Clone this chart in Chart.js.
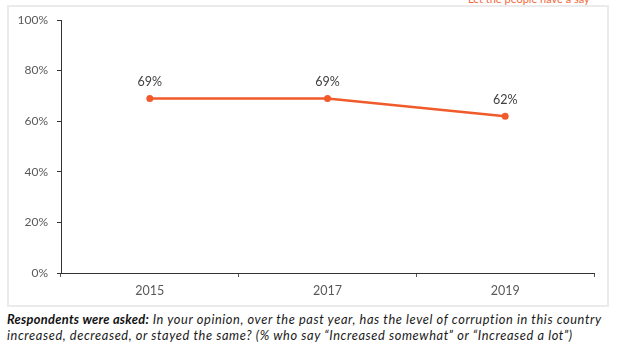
<!DOCTYPE html>
<html>
<head>
<meta charset="utf-8">
<script src="https://cdn.jsdelivr.net/npm/chart.js@4"></script>
<style>
  html, body { margin: 0; padding: 0; background: #fff; }
  body { width: 620px; height: 355px; position: relative; overflow: hidden; font-family: Lato, "Open Sans", sans-serif; }
  #box { position: absolute; left: 7px; top: 5px; width: 598px; height: 298px; border: 2px solid #ebebeb; }
  #wrap { position: absolute; left: 0; top: 0; width: 620px; height: 310px; }
  #tag { position: absolute; left: 468px; top: -8px; font-size: 11px; letter-spacing: 0; color: #f26b3d; white-space: nowrap; }
  #note { position: absolute; left: 7px; top: 311px; font-size: 12.8px; letter-spacing: 0.6px; line-height: 16px; color: #1a1a1a; font-style: italic; white-space: nowrap; }
  #note b { font-weight: 700; letter-spacing: 0.3px; color: #111; }
</style>
</head>
<body>
<div id="box"></div>
<div id="tag">Let the people have a say</div>
<div id="wrap"><canvas id="c" width="620" height="310"></canvas></div>
<div id="note"><b>Respondents were asked:</b> In your opinion, over the past year, has the level of corruption in this country<br>increased, decreased, or stayed the same? (% who say “Increased somewhat” or “Increased a lot”)</div>
<script>
const categories = ["2015", "2017", "2019"];
const values = [69, 69, 62];
const yTicks = [0, 20, 40, 60, 80, 100];

const labelPlugin = {
  id: 'pointLabels',
  afterDatasetsDraw(chart) {
    const ctx = chart.ctx;
    const meta = chart.getDatasetMeta(0);
    ctx.save();
    ctx.font = '12.5px Lato, "Open Sans", sans-serif';
    ctx.fillStyle = '#404040';
    ctx.textAlign = 'center';
    ctx.textBaseline = 'middle';
    meta.data.forEach((pt, i) => {
      ctx.fillText(values[i] + '%', pt.x, pt.y - 16);
    });
    ctx.restore();
  }
};

new Chart(document.getElementById('c'), {
  type: 'line',
  data: {
    labels: categories,
    datasets: [{
      data: values,
      borderColor: '#f15a2b',
      backgroundColor: '#f15a2b',
      borderWidth: 2.5,
      pointRadius: 3.5,
      pointHoverRadius: 3.5,
      pointBackgroundColor: '#f15a2b',
      pointBorderWidth: 0,
      tension: 0,
      fill: false
    }]
  },
  options: {
    responsive: false,
    animation: false,
    events: [],
    layout: { padding: { left: 0, right: 26, top: 20, bottom: 0 } },
    plugins: { legend: { display: false }, tooltip: { enabled: false } },
    scales: {
      x: {
        type: 'category',
        offset: true,
        afterFit(s) { s.height = 37; },
        grid: { offset: true, drawOnChartArea: false, drawTicks: true, tickLength: 4, color: '#555', lineWidth: 1 },
        border: { display: true, color: '#333', width: 1 },
        ticks: { color: '#595959', font: { family: 'Lato, "Open Sans", sans-serif', size: 12.5 }, padding: 6, maxRotation: 0 }
      },
      y: {
        min: 0, max: 100,
        afterFit(s) { s.width = 61; },
        afterBuildTicks(s) { s.ticks = yTicks.map(v => ({ value: v })); },
        grid: { drawOnChartArea: false, drawTicks: true, tickLength: 4, color: '#333', lineWidth: 1 },
        border: { display: true, color: '#333', width: 1 },
        ticks: { color: '#595959', font: { family: 'Lato, "Open Sans", sans-serif', size: 12 }, padding: 9, callback: v => v + '%' }
      }
    }
  },
  plugins: [labelPlugin]
});
</script>
</body>
</html>
